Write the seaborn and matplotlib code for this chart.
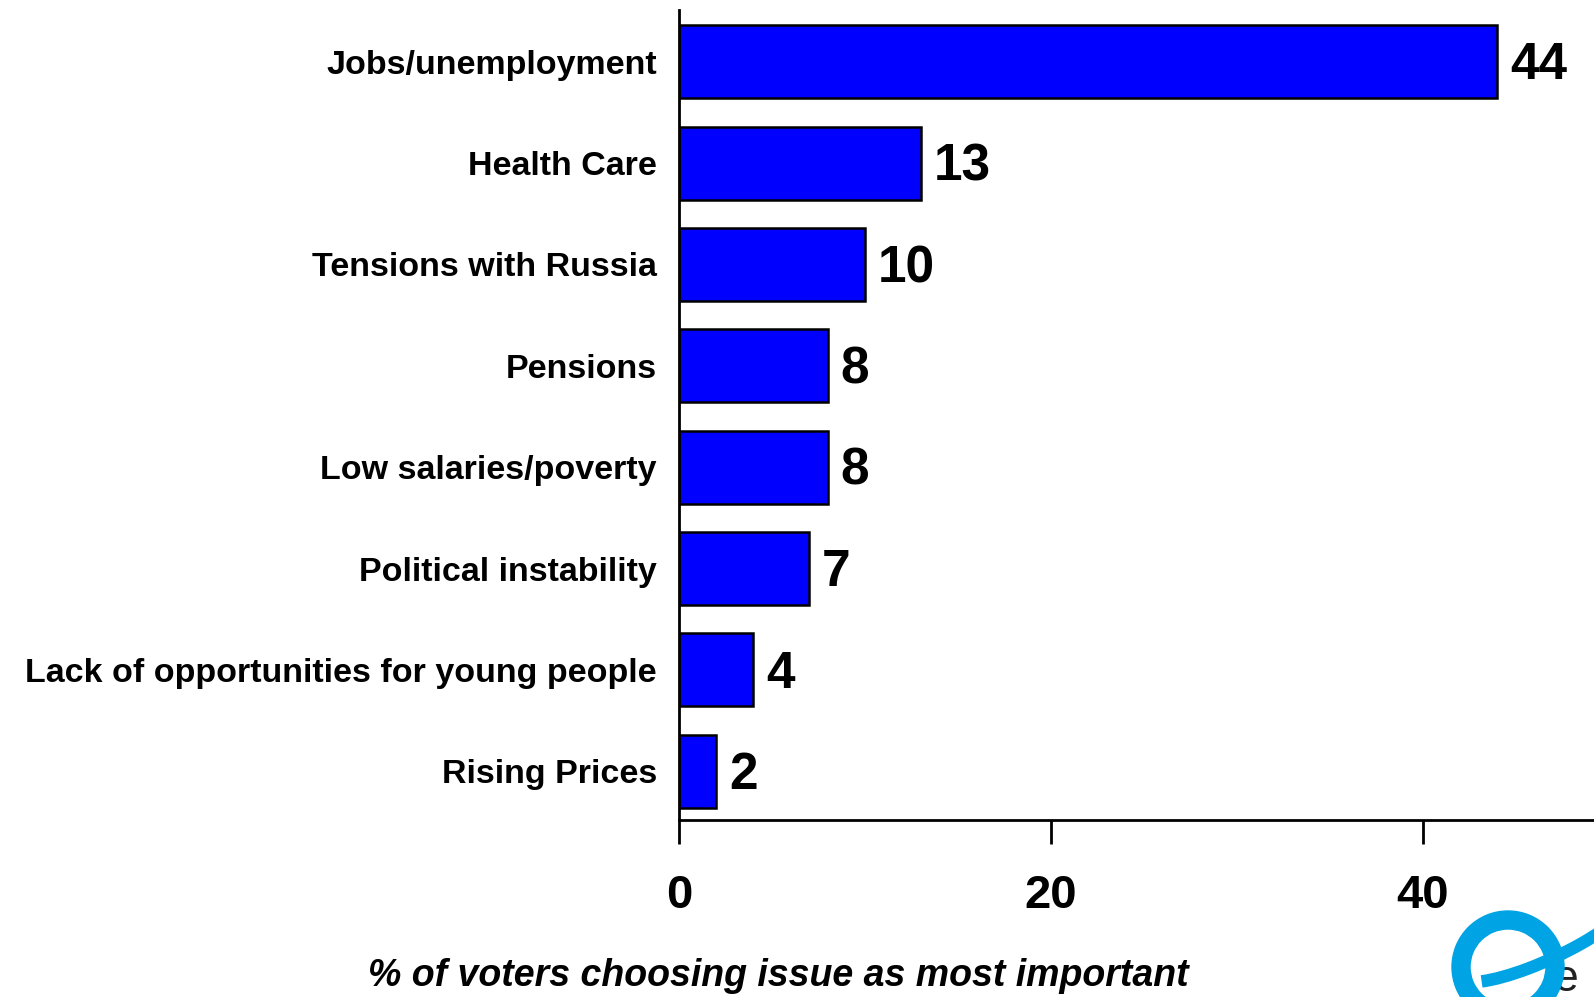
import matplotlib
matplotlib.use("Agg")
import matplotlib.pyplot as plt
import matplotlib.patches as mpatches
import pandas as pd
import seaborn as sns

issues = [
    "Jobs/unemployment",
    "Health Care",
    "Tensions with Russia",
    "Pensions",
    "Low salaries/poverty",
    "Political instability",
    "Lack of opportunities for young people",
    "Rising Prices",
]
shares = [44, 13, 10, 8, 8, 7, 4, 2]
x_ticks = [0, 20, 40]

df = pd.DataFrame({"issue": issues, "share": shares})

sns.set_style("white")
plt.rcParams["font.family"] = ["Liberation Sans", "DejaVu Sans"]
plt.rcParams["text.color"] = "black"
plt.rcParams["xtick.color"] = "black"
plt.rcParams["ytick.color"] = "black"

fig = plt.figure(figsize=(15.94, 9.97), dpi=100)
ax = fig.add_axes([0.426, 0.1775, 0.574, 0.8125])

sns.barplot(data=df, x="share", y="issue", order=issues, color="#0000FF",
            saturation=1, width=0.72, edgecolor="black", linewidth=1.8, ax=ax)

# value labels at bar ends
for i, v in enumerate(shares):
    ax.text(v + 0.7, i + 0.04, str(v), ha="left", va="center",
            fontsize=37, fontweight="bold", color="black")

ax.set_xlim(0, 49.2)
ax.set_ylim(7.48, -0.51)
ax.set_xticks(x_ticks)
ax.set_xticklabels([str(t) for t in x_ticks], fontsize=34, fontweight="bold")
ax.tick_params(axis="x", direction="out", length=17, width=2, pad=22,
               bottom=True, colors="black")
ax.tick_params(axis="y", length=0, pad=16, labelsize=24.5, colors="black")
for lab in ax.get_yticklabels():
    lab.set_fontweight("bold")
ax.set_xlabel("")
ax.set_ylabel("")

sns.despine(ax=ax, top=True, right=True)
for side in ["left", "bottom"]:
    ax.spines[side].set_linewidth(2)
    ax.spines[side].set_color("black")

fig.text(0.488, 0.021, "% of voters choosing issue as most important",
         ha="center", va="center", fontsize=27, fontweight="bold",
         fontstyle="italic", color="black")

# logo in the corner
logo_blue = "#00A3E4"
ring = mpatches.Annulus((1508, 30), 56, 18, transform=None,
                        color=logo_blue, zorder=5)
fig.patches.append(ring)
swoosh = mpatches.Arc((1545, 60), 190, 45, angle=25, theta1=190, theta2=360,
                      transform=None, color=logo_blue, linewidth=9, zorder=5)
fig.patches.append(swoosh)
fig.text(0.982, 0.006, "e", ha="center", va="baseline", fontsize=32,
         color="#222222")

fig.savefig("out.png", dpi=100)
